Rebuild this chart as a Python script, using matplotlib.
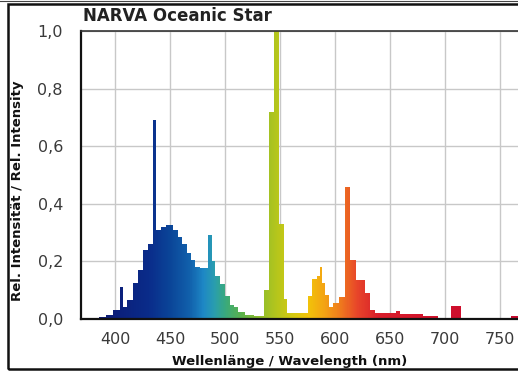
import numpy as np
import matplotlib
matplotlib.use('Agg')
import matplotlib.pyplot as plt
from matplotlib.colors import LinearSegmentedColormap
from matplotlib.patches import Rectangle

# ---- data ----
edges = [370, 385, 392, 398, 404, 407, 411, 416, 421, 425, 430, 434, 437.5, 442, 446,
         453, 457, 461, 465, 469, 473, 477, 484, 488, 491, 495, 500, 504, 508, 512,
         518, 526, 535, 540, 544, 549, 553, 556, 575, 579, 583, 586, 588, 591, 594,
         598, 603, 609, 613, 619, 627, 632, 636, 655, 659, 680, 693, 705, 714, 760, 766]
values = [0.004, 0.008, 0.015, 0.03, 0.11, 0.04, 0.065, 0.125, 0.17, 0.24, 0.26, 0.69,
          0.31, 0.32, 0.326, 0.31, 0.285, 0.26, 0.23, 0.205, 0.18, 0.177, 0.29, 0.2,
          0.15, 0.12, 0.08, 0.05, 0.04, 0.025, 0.015, 0.012, 0.10, 0.72, 1.0, 0.33,
          0.07, 0.02, 0.08, 0.14, 0.15, 0.18, 0.125, 0.085, 0.04, 0.055, 0.075, 0.46,
          0.205, 0.135, 0.09, 0.03, 0.02, 0.027, 0.018, 0.012, 0.005, 0.045, 0.0, 0.01]
x_ticks = [400, 450, 500, 550, 600, 650, 700, 750]
y_ticks = [0.0, 0.2, 0.4, 0.6, 0.8, 1.0]
y_tick_labels = ['0,0', '0,2', '0,4', '0,6', '0,8', '1,0']
title = 'NARVA Oceanic Star'
xlabel = 'Wellenlänge / Wavelength (nm)'
ylabel = 'Rel. Intensität / Rel. Intensity'

# ---- styling ----
XMIN, XMAX = 369, 766
anchors = [(369, '#151a6a'), (400, '#0c1f7a'), (430, '#0a2c8a'), (450, '#0b4699'),
           (468, '#1262ad'), (480, '#1e88c6'), (490, '#2a9eae'), (500, '#3aaa7c'),
           (515, '#5cb24a'), (530, '#8cbd2e'), (547, '#b6c61c'), (562, '#d6ca10'),
           (576, '#f2c20a'), (590, '#f4a414'), (605, '#ef7a1e'), (620, '#e8462a'),
           (640, '#d81e2a'), (700, '#d0102c'), (766, '#c80a30')]
cmap = LinearSegmentedColormap.from_list(
    'spec', [((w - XMIN) / (XMAX - XMIN), c) for w, c in anchors])

W, H = 518, 372
fig = plt.figure(figsize=(W / 100, H / 100), dpi=100)
ax = fig.add_axes([81 / W, 1 - 319 / H, 1 - 81 / W, (319 - 31) / H])

patch = ax.stairs(values, edges, fill=True, facecolor='none', edgecolor='none', zorder=2)
grad = np.linspace(XMIN, XMAX, 800)[None, :]
im = ax.imshow(grad, extent=[XMIN, XMAX, 0, 1.0], aspect='auto', cmap=cmap,
               origin='lower', zorder=2, interpolation='bilinear')
im.set_clip_path(patch)

ax.set_xlim(XMIN, XMAX)
ax.set_ylim(0, 1.0)
ax.set_xticks(x_ticks)
ax.set_yticks(y_ticks)
ax.set_yticklabels(y_tick_labels)
ax.grid(True, color='#c8c8c8', linewidth=1.0, zorder=0)
ax.set_axisbelow(True)
ax.tick_params(length=0, labelsize=11.5, colors='#3a3a3a')
ax.tick_params(axis='y', pad=13)
ax.tick_params(axis='x', pad=9)
for s in ['left', 'bottom']:
    ax.spines[s].set_linewidth(1.6)
    ax.spines[s].set_color('#111111')
ax.spines['top'].set_linewidth(1.2)
ax.spines['top'].set_color('#333333')
ax.spines['right'].set_visible(False)

fig.text(83 / W, 1 - 21 / H, title, fontsize=12, fontweight='bold', color='#222222',
         ha='left', va='baseline')
fig.text(290 / W, 1 - 365 / H, xlabel, fontsize=9.5, fontweight='bold', color='#111111',
         ha='center', va='baseline')
fig.text(18 / W, 1 - 191 / H, ylabel, fontsize=9.5, fontweight='bold', color='#111111',
         ha='center', va='center', rotation=90)

# outer frame
fig.add_artist(Rectangle((8 / W, 1 - 369 / H), 1.2, (369 - 4) / H, transform=fig.transFigure,
                         fill=False, edgecolor='#111111', linewidth=1.8))
fig.add_artist(plt.Line2D([0, 1], [1 - 0.5 / H, 1 - 0.5 / H], transform=fig.transFigure,
                          color='#444444', linewidth=0.8))

fig.savefig('out.png', dpi=100)
